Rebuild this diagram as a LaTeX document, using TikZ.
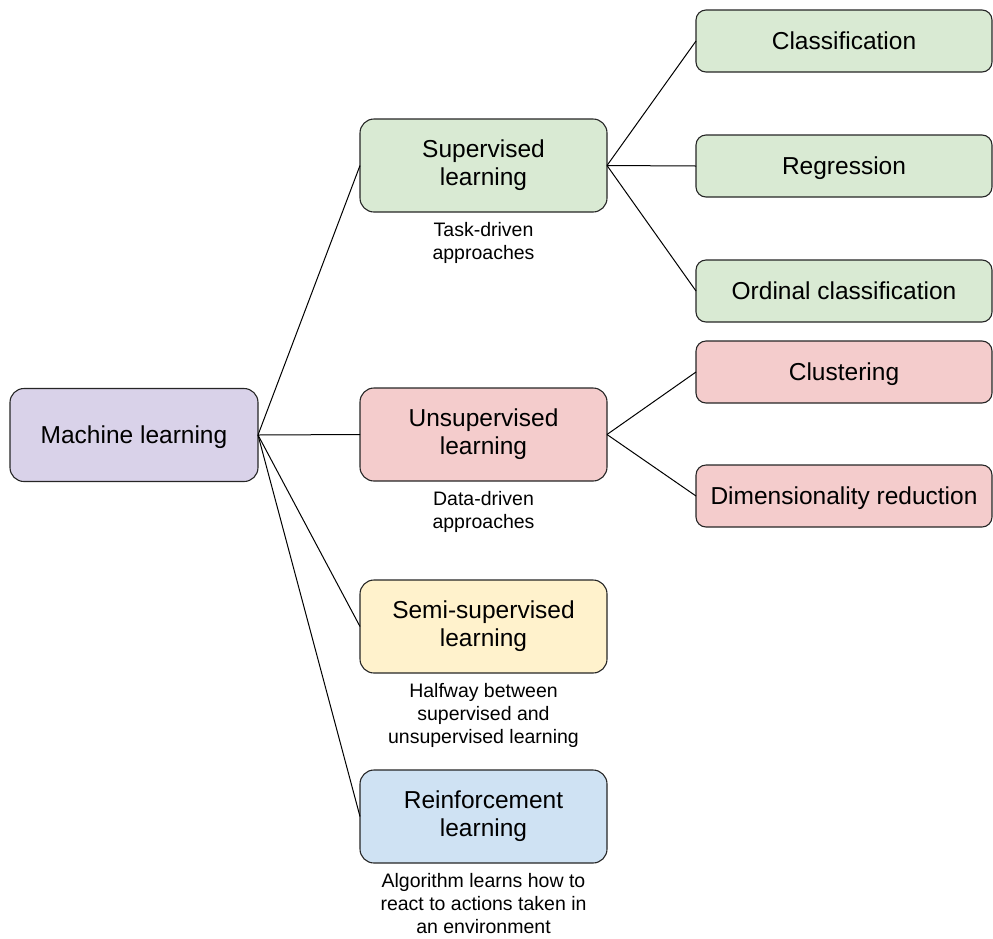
\documentclass[tikz,border=0pt]{standalone}
\usepackage{fontspec}
\setmainfont{Liberation Sans}
\definecolor{mlfill}{HTML}{D9D2E9}
\definecolor{supfill}{HTML}{D9EAD3}
\definecolor{unsfill}{HTML}{F4CCCC}
\definecolor{semfill}{HTML}{FFF2CC}
\definecolor{reifill}{HTML}{CFE2F3}
\begin{document}
\begin{tikzpicture}[x=1pt,y=-1pt,
  box/.style={draw=black!85, line width=1.1pt, rounded corners=14pt,
    minimum width=247pt, minimum height=93pt, inner sep=0pt, outer sep=0pt,
    align=center, font=\fontsize{24.5}{27.5}\selectfont,
    % struts so the lines sit centred on their capitals
    execute at begin node={\rule{0pt}{0.936em}},
    execute at end node={\rule[-0.22em]{0pt}{0pt}}},
  leaf/.style={box, rounded corners=10pt, minimum width=296pt, minimum height=62pt},
  note/.style={align=center, inner sep=0pt, font=\fontsize{19.5}{23}\selectfont},
  link/.style={draw=black, line width=1pt}]
\useasboundingbox (0,0) rectangle (993,938);

% root and the four learning paradigms
\node[box, fill=mlfill, minimum width=248pt] (ml) at (134,435) {Machine learning};
\node[box, fill=supfill] (sup) at (483.5,165.5) {Supervised\\learning};
\node[box, fill=unsfill] (uns) at (483.5,434.5) {Unsupervised\\learning};
\node[box, fill=semfill] (sem) at (483.5,626.5) {Semi-supervised\\learning};
\node[box, fill=reifill] (rei) at (483.5,816.5) {Reinforcement\\learning};

% task families
\node[leaf, fill=supfill] (cla) at (844,41) {Classification};
\node[leaf, fill=supfill] (reg) at (844,166) {Regression};
\node[leaf, fill=supfill] (ord) at (844,291) {Ordinal classification};
\node[leaf, fill=unsfill] (clu) at (844,372) {Clustering};
\node[leaf, fill=unsfill] (dim) at (844,496) {Dimensionality reduction};

% captions under the paradigms
\node[note, anchor=north] (supn) at (483.5,222) {Task-driven\\approaches};
\node[note, anchor=north] (unsn) at (483.5,491) {Data-driven\\approaches};
\node[note, anchor=north] (semn) at (483.5,683) {Halfway between\\supervised and\\unsupervised learning};
\node[note, anchor=north] (rein) at (483.5,873) {Algorithm learns how to\\react to actions taken in\\an environment};

% connectors
\foreach \t in {sup,uns,sem,rei} \draw[link] (ml.east) -- (\t.west);
\foreach \t in {cla,reg,ord} \draw[link] (sup.east) -- (\t.west);
\foreach \t in {clu,dim} \draw[link] (uns.east) -- (\t.west);
\end{tikzpicture}
\end{document}
